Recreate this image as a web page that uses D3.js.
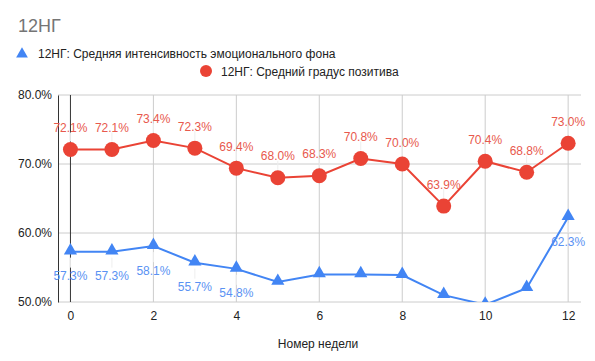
<!DOCTYPE html>
<html>
<head>
<meta charset="utf-8">
<script src="https://cdn.jsdelivr.net/npm/d3@7"></script>
<style>
  body { margin: 0; background: #fff; }
  svg text { font-family: Arial, "Liberation Sans", sans-serif; }
</style>
</head>
<body>
<svg id="chart"></svg>
<script>
"use strict";

var Width = 595,
    Height = 361,
    weeks = [0, 1, 2, 3, 4, 5, 6, 7, 8, 9, 10, 11, 12],
    intensity = [57.3, 57.3, 58.1, 55.7, 54.8, 52.9, 54.0, 54.0, 53.9, 51.0, 49.6, 52.0, 62.3],
    positive = [72.1, 72.1, 73.4, 72.3, 69.4, 68.0, 68.3, 70.8, 70.0, 63.9, 70.4, 68.8, 73.0],
    // which blue points carry a value label
    intensityLabelled = [0, 1, 2, 3, 4, 12],
    yTicks = [50, 60, 70, 80],
    xTicks = [0, 2, 4, 6, 8, 10, 12],
    seriesNames = ["12НГ: Средняя интенсивность эмоционального фона", "12НГ: Средний градус позитива"];

var blue = "#4285f4",
    red = "#ea4335";

var svg = d3.select("#chart")
    .attr("width", Width)
    .attr("height", Height);

var x = d3.scaleLinear().domain([-0.3, 12.31]).range([58, 581]);
var y = d3.scaleLinear().domain([50, 80]).range([302, 95]);

// title
svg.append("text")
    .attr("x", 18)
    .attr("y", 32)
    .attr("font-size", 18)
    .attr("fill", "#757575")
    .text("12НГ");

// legend
var leg = svg.append("g");
leg.append("path")
    .attr("d", d3.symbol().type(d3.symbolTriangle).size(60)())
    .attr("transform", "translate(22,54)")
    .attr("fill", blue);
leg.append("text")
    .attr("x", 38).attr("y", 58)
    .attr("font-size", 12).attr("fill", "#222")
    .text(seriesNames[0]);
leg.append("circle")
    .attr("cx", 206).attr("cy", 71).attr("r", 6)
    .attr("fill", red);
leg.append("text")
    .attr("x", 221).attr("y", 75.5)
    .attr("font-size", 12).attr("fill", "#222")
    .text(seriesNames[1]);

// grid
svg.append("g")
    .selectAll("line")
    .data(yTicks)
    .enter().append("line")
    .attr("x1", 58).attr("x2", 581)
    .attr("y1", function (d) { return y(d); })
    .attr("y2", function (d) { return y(d); })
    .attr("stroke", "#ccc");

svg.append("g")
    .selectAll("line")
    .data(xTicks)
    .enter().append("line")
    .attr("x1", function (d) { return x(d); })
    .attr("x2", function (d) { return x(d); })
    .attr("y1", 95).attr("y2", 302)
    .attr("stroke", function (d) { return d === 0 ? "#333" : "#ccc"; });

// axes
var yAxis = svg.append("g")
    .attr("transform", "translate(58,0)")
    .call(d3.axisLeft(y).tickValues(yTicks).tickSize(0).tickPadding(6)
        .tickFormat(function (d) { return d.toFixed(1) + "%"; }));
yAxis.select(".domain").attr("stroke", "#333");
yAxis.selectAll("text").attr("font-size", 12).attr("fill", "#222")
    .attr("font-family", "Arial, 'Liberation Sans', sans-serif");

var xAxis = svg.append("g")
    .attr("transform", "translate(0,302)")
    .call(d3.axisBottom(x).tickValues(xTicks).tickSize(0).tickPadding(9)
        .tickFormat(d3.format("d")));
xAxis.select(".domain").remove();
xAxis.selectAll("text").attr("font-size", 12).attr("fill", "#222")
    .attr("font-family", "Arial, 'Liberation Sans', sans-serif");

svg.append("text")
    .attr("x", 318).attr("y", 348)
    .attr("text-anchor", "middle")
    .attr("font-size", 12).attr("fill", "#222")
    .text("Номер недели");

// clip the plot area
svg.append("clipPath").attr("id", "plot")
    .append("rect")
    .attr("x", 58).attr("y", 60).attr("width", 540).attr("height", 242);

var plot = svg.append("g").attr("clip-path", "url(#plot)");

var line = d3.line()
    .x(function (d, i) { return x(weeks[i]); })
    .y(function (d) { return y(d); });

// label leader lines
plot.selectAll(".leadR")
    .data(positive)
    .enter().append("line")
    .attr("x1", function (d, i) { return x(weeks[i]); })
    .attr("x2", function (d, i) { return x(weeks[i]); })
    .attr("y1", function (d) { return y(d) - 17; })
    .attr("y2", function (d) { return y(d) - 8; })
    .attr("stroke", "#eee");

plot.selectAll(".leadB")
    .data(intensityLabelled)
    .enter().append("line")
    .attr("x1", function (i) { return x(weeks[i]); })
    .attr("x2", function (i) { return x(weeks[i]); })
    .attr("y1", function (i) { return y(intensity[i]) + 6; })
    .attr("y2", function (i) { return y(intensity[i]) + 16; })
    .attr("stroke", "#eee");

// blue series
plot.append("path")
    .datum(intensity)
    .attr("d", line)
    .attr("fill", "none")
    .attr("stroke", blue)
    .attr("stroke-width", 2);

plot.selectAll(".tri")
    .data(intensity)
    .enter().append("path")
    .attr("d", d3.symbol().type(d3.symbolTriangle).size(75)())
    .attr("transform", function (d, i) { return "translate(" + x(weeks[i]) + "," + (y(d) - 1) + ")"; })
    .attr("fill", blue);

// red series
plot.append("path")
    .datum(positive)
    .attr("d", line)
    .attr("fill", "none")
    .attr("stroke", red)
    .attr("stroke-width", 2);

plot.selectAll(".dot")
    .data(positive)
    .enter().append("circle")
    .attr("cx", function (d, i) { return x(weeks[i]); })
    .attr("cy", function (d) { return y(d); })
    .attr("r", 7.5)
    .attr("fill", red);

// value labels
svg.append("g")
    .selectAll("text")
    .data(positive)
    .enter().append("text")
    .attr("x", function (d, i) { return x(weeks[i]); })
    .attr("y", function (d) { return y(d) - 17.5; })
    .attr("text-anchor", "middle")
    .attr("font-size", 12)
    .attr("fill", "#e8594d")
    .text(function (d) { return d.toFixed(1) + "%"; });

svg.append("g")
    .selectAll("text")
    .data(intensityLabelled)
    .enter().append("text")
    .attr("x", function (i) { return x(weeks[i]); })
    .attr("y", function (i) { return y(intensity[i]) + 28.5; })
    .attr("text-anchor", "middle")
    .attr("font-size", 12)
    .attr("fill", "#5a92f3")
    .text(function (i) { return intensity[i].toFixed(1) + "%"; });
</script>
</body>
</html>
